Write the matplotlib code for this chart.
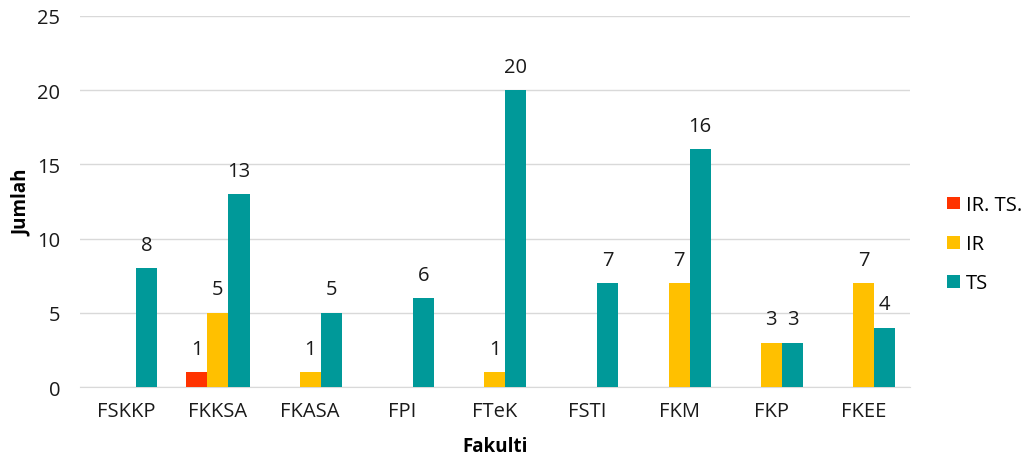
import numpy as np
import matplotlib
matplotlib.use('Agg')
import matplotlib.pyplot as plt

plt.rcParams['font.family'] = ['Open Sans', 'DejaVu Sans']

fakulti = ['FSKKP', 'FKKSA', 'FKASA', 'FPI', 'FTeK', 'FSTI', 'FKM', 'FKP', 'FKEE']
ir_ts = [0, 1, 0, 0, 0, 0, 0, 0, 0]
ir = [0, 5, 1, 0, 1, 0, 7, 3, 7]
ts = [8, 13, 5, 6, 20, 7, 16, 3, 4]

series = [('IR. TS.', ir_ts, '#FF3300'), ('IR', ir, '#FFC000'), ('TS', ts, '#009999')]

fs = 14.5
fig = plt.figure(figsize=(10.21, 4.56), dpi=100)
ax = fig.add_axes([0.078, 0.149, 0.813, 0.814])

x = np.arange(len(fakulti))
w = 0.228
for i, (nama, vals, warna) in enumerate(series):
    pos = x + (i - 1) * w
    bars = ax.bar(pos, vals, w, color=warna, label=nama, zorder=3)
    for b, v in zip(bars, vals):
        if v > 0:
            ax.text(b.get_x() + b.get_width() / 2, v + 0.9, str(v),
                    ha='center', va='bottom', fontsize=fs, color='#1a1a1a')

ax.set_xlim(-0.5, len(fakulti) - 0.5)
ax.set_ylim(0, 25)
ax.set_yticks(range(0, 26, 5))
ax.set_xticks(x)
ax.set_xticklabels(fakulti)
ax.tick_params(axis='both', length=0, labelsize=fs, colors='#1a1a1a')
ax.tick_params(axis='x', pad=10)
ax.tick_params(axis='y', pad=14)
ax.grid(axis='y', color='#D9D9D9', linewidth=1, zorder=0)
for s in ['top', 'right', 'left']:
    ax.spines[s].set_visible(False)
ax.spines['bottom'].set_color('#D9D9D9')

ax.set_xlabel('Fakulti', fontsize=13.5, fontweight='bold', labelpad=11)
ax.set_ylabel('Jumlah', fontsize=13.5, fontweight='bold', labelpad=4)

fig.legend(loc='center left', bbox_to_anchor=(0.928, 0.462), frameon=False,
           fontsize=fs, handlelength=0.6, handleheight=0.6, labelspacing=0.95,
           handletextpad=0.3, borderpad=0, borderaxespad=0)

fig.savefig('out.png', dpi=100)
